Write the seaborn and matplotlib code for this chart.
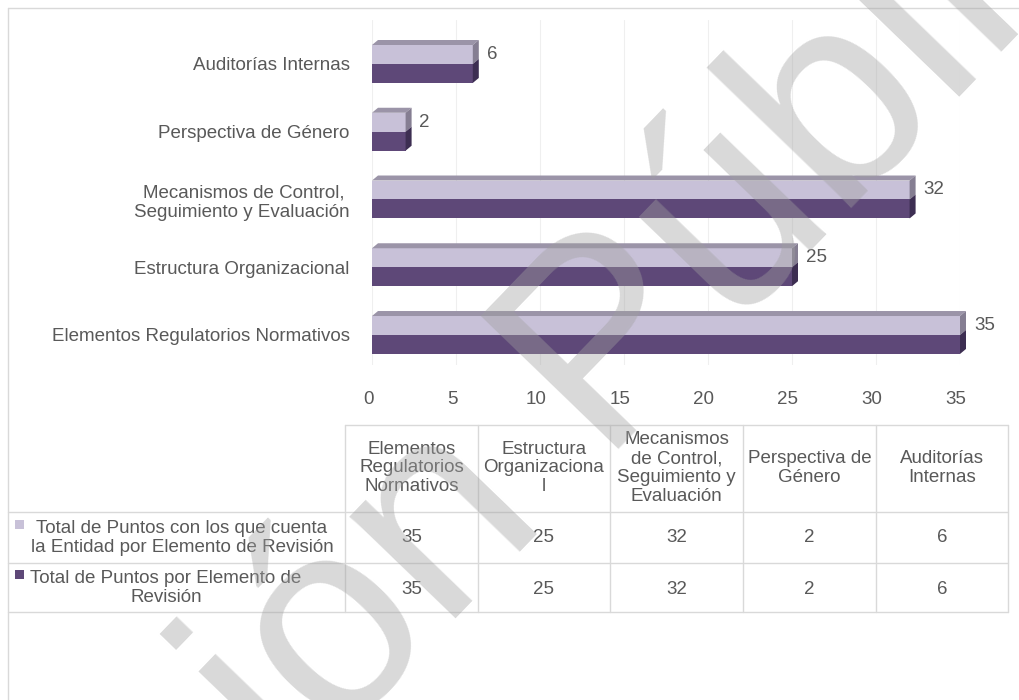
import matplotlib
matplotlib.use("Agg")
import matplotlib.pyplot as plt
import matplotlib.transforms as mtransforms
from matplotlib.patches import Polygon, Rectangle
from matplotlib.lines import Line2D
import pandas as pd
import seaborn as sns

# ---- data ----
categories = [
    "Elementos Regulatorios Normativos",
    "Estructura Organizacional",
    "Mecanismos de Control, Seguimiento y Evaluación",
    "Perspectiva de Género",
    "Auditorías Internas",
]
axis_labels = [
    "Elementos Regulatorios Normativos",
    "Estructura Organizacional",
    "Mecanismos de Control, \nSeguimiento y Evaluación",
    "Perspectiva de Género",
    "Auditorías Internas",
]
table_headers = [
    "Elementos\nRegulatorios\nNormativos",
    "Estructura\nOrganizaciona\nl",
    "Mecanismos\nde Control,\nSeguimiento y\nEvaluación",
    "Perspectiva de\nGénero",
    "Auditorías\nInternas",
]
series = [
    "Total de Puntos con los que cuenta la Entidad por Elemento de Revisión",
    "Total de Puntos por Elemento de Revisión",
]
series_wrapped = [
    "Total de Puntos con los que cuenta\nla Entidad por Elemento de Revisión",
    "Total de Puntos por Elemento de\nRevisión",
]
puntos_entidad = [35, 25, 32, 2, 6]
puntos_total = [35, 25, 32, 2, 6]

colors = ["#C8C1D8", "#5E4878"]
top_face = "#9B94A8"
side_faces = ["#857E92", "#3D2E52"]
text_gray = "#595959"
line_gray = "#D9D9D9"
fs = 13.5

W, H = 1019, 700

df = pd.DataFrame({
    "Elemento": categories * 2,
    "Serie": [series[0]] * 5 + [series[1]] * 5,
    "Puntos": puntos_entidad + puntos_total,
})

sns.set_style("white")
plt.rcParams["font.family"] = ["Liberation Sans", "DejaVu Sans"]

fig = plt.figure(figsize=(W / 100, H / 100), dpi=100)


def fx(x):
    return x / W


def fy(y):
    return 1 - y / H


# plot area in pixels: x 372..960, y 20..365
ax = fig.add_axes([fx(372), fy(365), (960 - 372) / W, (365 - 20) / H])
sns.barplot(data=df, y="Elemento", x="Puntos", hue="Serie",
            order=categories[::-1], hue_order=series, palette=colors,
            saturation=1, width=0.56, linewidth=0, legend=False, ax=ax)

ax.set_xlim(0, 35)
ax.set_ylim(4.443, -0.649)
ax.set_xticks(range(0, 36, 5))
ax.set_yticks(range(5))
ax.set_yticklabels(axis_labels[::-1])
ax.set_xlabel("")
ax.set_ylabel("")
ax.grid(axis="x", color="#EFEFEF", lw=0.8)
ax.set_axisbelow(True)
for s in ax.spines.values():
    s.set_visible(False)
ax.tick_params(axis="x", length=0, pad=19, labelsize=fs, labelcolor=text_gray)
ax.tick_params(axis="y", length=0, pad=16, labelsize=fs, labelcolor=text_gray)
shift = mtransforms.ScaledTranslation(-4 / 100, 0, fig.dpi_scale_trans)
for lab in ax.get_xticklabels():
    lab.set_transform(lab.get_transform() + shift)

# fake 3D faces on top of the seaborn bars
dx, dy = 6, 5
ident = mtransforms.IdentityTransform()
for light, dark in zip(ax.containers[0], ax.containers[1]):
    x0, x1 = 0, light.get_width()
    (px0, ytop), (px1, ymid) = ax.transData.transform(
        [(x0, light.get_y()), (x1, light.get_y() + light.get_height())])
    _, ybot = ax.transData.transform((x1, dark.get_y() + dark.get_height()))
    ax.add_patch(Polygon([(px0, ytop), (px1, ytop), (px1 + dx, ytop + dy), (px0 + dx, ytop + dy)],
                         closed=True, color=top_face, lw=0, transform=ident, clip_on=False))
    ax.add_patch(Polygon([(px1, ytop), (px1 + dx, ytop + dy), (px1 + dx, ymid + dy), (px1, ymid)],
                         closed=True, color=side_faces[0], lw=0, transform=ident, clip_on=False))
    ax.add_patch(Polygon([(px1, ymid), (px1 + dx, ymid + dy), (px1 + dx, ybot + dy), (px1, ybot)],
                         closed=True, color=side_faces[1], lw=0, transform=ident, clip_on=False))

ax.bar_label(ax.containers[0], padding=10, fontsize=fs, color=text_gray)

# ---- chart border ----
fig.add_artist(Line2D([fx(8), 1], [fy(8), fy(8)], color=line_gray, lw=1))
fig.add_artist(Line2D([fx(8), fx(8)], [fy(8), 0], color=line_gray, lw=1))

# ---- data table ----
col_edges = [345, 478, 610, 743, 876, 1008]
row_lines = [512, 563, 612]
fig.add_artist(Line2D([fx(345), fx(1008)], [fy(425), fy(425)], color=line_gray, lw=1))
for y in row_lines:
    fig.add_artist(Line2D([fx(8), fx(1008)], [fy(y), fy(y)], color=line_gray, lw=1))
for x in col_edges:
    fig.add_artist(Line2D([fx(x), fx(x)], [fy(425), fy(612)], color=line_gray, lw=1))

centers = [(a + b) / 2 for a, b in zip(col_edges[:-1], col_edges[1:])]
for cx, head, v1, v2 in zip(centers, table_headers, puntos_entidad, puntos_total):
    fig.text(fx(cx), fy(468), head, ha="center", va="center", fontsize=fs,
             color=text_gray, linespacing=1.15)
    fig.text(fx(cx), fy(538), str(v1), ha="center", va="center", fontsize=fs, color=text_gray)
    fig.text(fx(cx), fy(589), str(v2), ha="center", va="center", fontsize=fs, color=text_gray)

row_text_x = [182, 166]
row_y = [538, 588]
marker_y = [524, 574]
for lab, col, tx, ty, my in zip(series_wrapped, colors, row_text_x, row_y, marker_y):
    fig.text(fx(tx), fy(ty), lab, ha="center", va="center", fontsize=fs,
             color=text_gray, linespacing=1.08)
    fig.add_artist(Rectangle((fx(15), fy(my + 4.5)), 9 / W, 9 / H, color=col, lw=0))

# ---- watermark ----
fig.text(fx(520), fy(448), "Versión Pública", rotation=46, rotation_mode="anchor",
         ha="center", va="center", fontsize=200,
         color="#A0A0A0", alpha=0.4, zorder=20)

fig.savefig("out.png", dpi=100, facecolor="white")
